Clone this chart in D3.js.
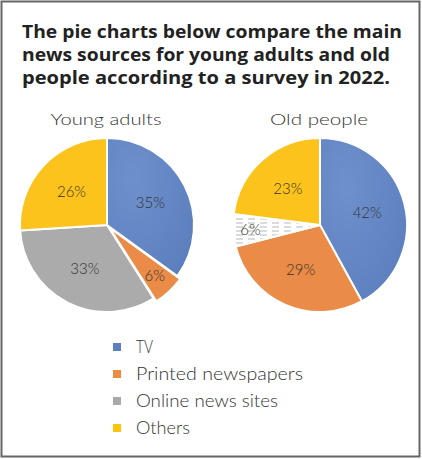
<!DOCTYPE html>
<html><head><meta charset="utf-8">
<script src="https://cdn.jsdelivr.net/npm/d3@7"></script>
<style>body{margin:0;background:#fff}svg{display:block}</style>
</head><body>
<script>
const categories = ["TV", "Printed newspapers", "Online news sites", "Others"];
const youngValues = [35, 6, 33, 26];
const oldValues = [42, 29, 6, 23];
const chartTitles = ["Young adults", "Old people"];
const titleLines = ["The pie charts below compare the main", "news sources for young adults and old", "people according to a survey in 2022."];
const colors = ["#6386c4", "#ea8b48", "#ababab", "#fcc31c"];

const W = 422, H = 459;
const svg = d3.select("body").append("svg").attr("width", W).attr("height", H);

const defs = svg.append("defs");
const pat = defs.append("pattern").attr("id", "dash").attr("patternUnits", "userSpaceOnUse")
  .attr("width", 12).attr("height", 4);
pat.append("rect").attr("width", 12).attr("height", 4).attr("fill", "#fff");
pat.append("line").attr("x1", 0).attr("x2", 7).attr("y1", 2).attr("y2", 2)
  .attr("stroke", "#b8b8b8").attr("stroke-width", 1);
const grad = defs.append("radialGradient").attr("id", "tvg").attr("cx", "30%").attr("cy", "30%").attr("r", "90%");
grad.append("stop").attr("offset", "0%").attr("stop-color", "#6e90cc");
grad.append("stop").attr("offset", "100%").attr("stop-color", "#5a7dbd");

// border
svg.append("rect").attr("x", 1.5).attr("y", 1.5).attr("width", 418).attr("height", 455)
  .attr("fill", "none").attr("stroke", "#666").attr("stroke-width", 2);

// title
svg.selectAll("text.title").data(titleLines).join("text").attr("class", "title")
  .attr("x", 22).attr("y", (d, i) => 38 + i * 23)
  .attr("font-family", "Open Sans, sans-serif").attr("font-weight", 700)
  .attr("font-size", 17.5).attr("fill", "#222")
  .attr("textLength", (d, i) => i === 0 ? 380 : 368).attr("lengthAdjust", "spacingAndGlyphs")
  .text(d => d);

const R = 87;
const pie = d3.pie().sort(null).value(d => d);
const arc = d3.arc().innerRadius(0).outerRadius(R);

function drawPie(cx, cy, values, title, idx) {
  const g = svg.append("g").attr("transform", `translate(${cx},${cy})`);
  svg.append("text").attr("x", cx - 1).attr("y", 125).attr("text-anchor", "middle")
    .attr("font-family", "Lato, sans-serif").attr("font-weight", 300).attr("font-size", 16)
    .attr("fill", "#333")
    .attr("textLength", idx === 0 ? 111 : 98).attr("lengthAdjust", "spacingAndGlyphs")
    .text(title);
  const arcs = pie(values);
  g.selectAll("path").data(arcs).join("path")
    .attr("transform", (d, i) => {
      if (idx === 0 && i === 1) {
        const a = (d.startAngle + d.endAngle) / 2;
        return `translate(${Math.sin(a) * 4},${-Math.cos(a) * 4})`;
      }
      return null;
    })
    .attr("d", arc)
    .attr("fill", (d, i) => {
      if (idx === 1 && i === 2) return "url(#dash)";
      if (i === 0) return "url(#tvg)";
      return colors[i];
    })
    .attr("stroke", "#fff").attr("stroke-width", 2);
  g.selectAll("text").data(arcs).join("text")
    .attr("transform", d => {
      const a = (d.startAngle + d.endAngle) / 2;
      const lr = d.data < 10 ? 0.8 * R : 0.56 * R;
      return `translate(${Math.sin(a) * lr},${-Math.cos(a) * lr})`;
    })
    .attr("text-anchor", "middle").attr("dy", "0.35em")
    .attr("font-family", "Lato, sans-serif").attr("font-weight", 300).attr("font-size", 15)
    .attr("fill", "#333")
    .text(d => d.data + "%");
}
drawPie(107, 225, youngValues, chartTitles[0], 0);
drawPie(320, 225, oldValues, chartTitles[1], 1);

// legend
const leg = svg.append("g");
const rows = leg.selectAll("g").data(categories).join("g")
  .attr("transform", (d, i) => `translate(113,${347 + i * 27})`);
rows.append("rect").attr("x", 0).attr("y", -4).attr("width", 8).attr("height", 8)
  .attr("fill", (d, i) => ["#5b80c0", "#ed8a43", "#a9a9a9", "#ffc20e"][i]);
rows.append("text").attr("x", 23).attr("y", 0).attr("dy", "0.35em")
  .attr("font-family", "Lato, sans-serif").attr("font-weight", 300).attr("font-size", 17)
  .attr("fill", "#333")
  .attr("textLength", (d, i) => [17, 167, 142, 54][i]).attr("lengthAdjust", "spacingAndGlyphs")
  .text(d => d);
</script>
</body></html>
